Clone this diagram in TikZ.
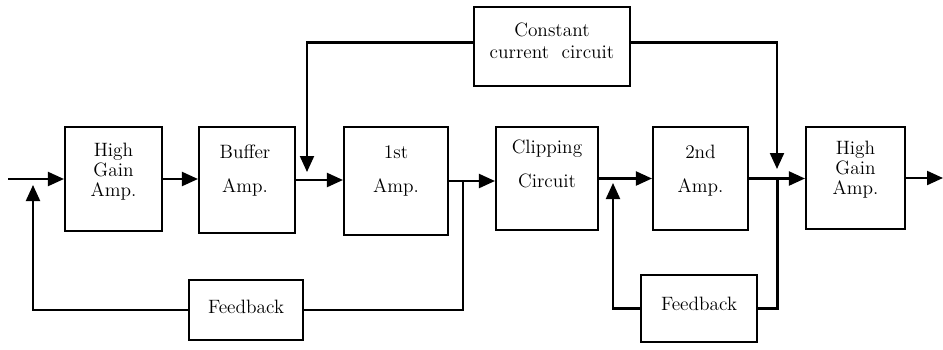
\documentclass[tikz,border=0pt]{standalone}
\usetikzlibrary{arrows.meta,positioning}
\begin{document}
\begin{tikzpicture}[x=0.02cm,y=-0.02cm,
  blk/.style={draw,line width=1.2pt,inner sep=0pt},
  txt/.style={align=center,inner sep=0pt,font=\fontsize{11}{13}\selectfont},
  wire/.style={line width=1.2pt},
  sig/.style={wire,-{Triangle[length=3.2mm,width=2.8mm]}},
]
  \useasboundingbox (0,0) rectangle (943,349);

  % blocks on the signal path
  \node[blk,minimum width=1.94cm,minimum height=2.08cm] (hga1) at (113.5,179) {};
  \node[blk,minimum width=1.92cm,minimum height=2.12cm] (buf) at (247,180) {};
  \node[blk,minimum width=2.08cm,minimum height=2.16cm] (amp1) at (396,181) {};
  \node[blk,minimum width=2.04cm,minimum height=2.06cm] (clip) at (547,178.5) {};
  \node[blk,minimum width=1.90cm,minimum height=2.06cm] (amp2) at (700.5,178.5) {};
  \node[blk,minimum width=1.98cm,minimum height=2.04cm] (hga2) at (855.5,178) {};
  % side blocks
  \node[blk,minimum width=3.12cm,minimum height=1.58cm] (ccc) at (552,46.5) {};
  \node[blk,minimum width=2.28cm,minimum height=1.20cm] (fb1) at (246,310) {};
  \node[blk,minimum width=2.32cm,minimum height=1.34cm] (fb2) at (699,308.5) {};

  % texts
  \node[txt,font=\fontsize{11}{11.4}\selectfont] (hga1-t) at (113.5,172) {High\\Gain\\Amp.};
  \node[txt] (buf-t) at (245,170.5) {Buffer\\[6.4pt]Amp.};
  \node[txt] (amp1-t) at (396,170.5) {1st\\[6.4pt]Amp.};
  \node[txt] (clip-t) at (547,164) {Clipping\\[6.4pt]Circuit};
  \node[txt] (amp2-t) at (700.5,170.5) {2nd\\[6.4pt]Amp.};
  \node[txt,font=\fontsize{11}{11.4}\selectfont] (hga2-t) at (855.5,170) {High\\Gain\\Amp.};
  \node[txt,font=\fontsize{11}{12.5}\selectfont] (ccc-t) at (552,41) {Constant\\current\ \ circuit};
  \node[txt] (fb1-t) at (246,307) {Feedback};
  \node[txt] (fb2-t) at (699,304) {Feedback};

  % free ends and junctions
  \coordinate (in) at (8,179);
  \coordinate (out) at (943,176);
  \coordinate (j1) at (463,181);
  \coordinate (j2) at (777.5,178);
  \coordinate (fb1tip) at (33,185);
  \coordinate (fb2tip) at (613,183);
  \coordinate (cc1tip) at (307,172);
  \coordinate (cc2tip) at (777,169);

  % main path
  \draw[sig] (in) -- (hga1.west);
  \draw[sig] (hga1.east) -- (hga1.east -| buf.west);
  \draw[sig] (buf.east) -- (buf.east -| amp1.west);
  \draw[sig] (amp1.east) -- (amp1.east -| clip.west);
  \draw[sig] (clip.east) -- (clip.east -| amp2.west);
  \draw[sig] (amp2.east) -- (amp2.east -| hga2.west);
  \draw[sig] (hga2.east) -- (hga2.east -| out);

  % feedback loops
  \draw[wire] (j1) |- (fb1.east);
  \draw[sig] (fb1.west) -| (fb1tip);
  \draw[wire] (j2) |- (fb2.east);
  \draw[sig] (fb2.west) -| (fb2tip);

  % constant current feeds
  \draw[sig] ([yshift=0.08cm]ccc.west) -| (cc1tip);
  \draw[sig] ([yshift=0.08cm]ccc.east) -| (cc2tip);
\end{tikzpicture}
\end{document}
